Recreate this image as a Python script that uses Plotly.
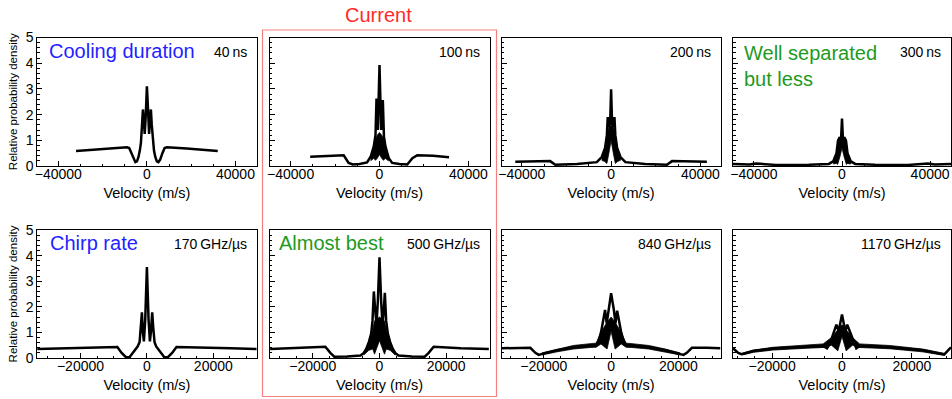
import plotly.graph_objects as go

FONT = "Liberation Sans, Arial, Helvetica, sans-serif"

# ---------------- data ----------------
TOP_LABELS = ["40\u2009ns", "100\u2009ns", "200\u2009ns", "300\u2009ns"]
BOT_LABELS = ["170\u2009GHz/\u00b5s", "500\u2009GHz/\u00b5s", "840\u2009GHz/\u00b5s", "1170\u2009GHz/\u00b5s"]
TOP_RANGES = [49500, 49500, 49000, 49500]
BOT_RANGES = [33000, 33000, 32500, 31200]
X_TITLE = "Velocity (m/s)"
Y_TITLE = "Relative probability density"

# 40 ns
P1_X = [-32000, -25000, -18000, -12000, -9000, -8000, -7000, -6000, -5200, -4500, -3800, -3200,
        -2700, -2200, -1800, -1400, -1000, -600, -300, 0, 300, 600, 1000, 1400, 1800, 2200, 2700,
        3200, 3800, 4500, 5200, 6000, 7000, 8000, 9000, 12000, 18000, 25000, 32000]
P1_Y = [0.58, 0.63, 0.68, 0.72, 0.73, 0.70, 0.50, 0.25, 0.15, 0.18, 0.35, 0.60,
        0.90, 1.60, 2.20, 1.80, 1.25, 1.80, 2.60, 3.10, 2.60, 1.80, 1.25, 1.80, 2.20, 1.60, 0.90,
        0.60, 0.35, 0.18, 0.15, 0.25, 0.50, 0.70, 0.73, 0.72, 0.68, 0.63, 0.58]

# 100 ns
P2_X = [-31200, -22600, -16100, -13900, -12000, -9000, -5600, -4000, -2600, -1800, -1350, -750,
        0, 750, 1500, 2000, 2700, 4200, 5700, 9000, 12500, 14800, 17000, 24100, 31300]
P2_Y = [0.36, 0.40, 0.42, 0.12, 0.06, 0.08, 0.14, 0.36, 0.75, 1.20, 2.63, 1.40,
        3.93, 1.40, 2.57, 1.14, 0.75, 0.30, 0.12, 0.08, 0.06, 0.30, 0.42, 0.40, 0.34]
P2_BX = [-4000, -2600, -1800, -1000, 0, 1000, 1800, 2600, 4000]
P2_BLO = [0.20, 0.30, 0.22, 0.30, 0.45, 0.30, 0.22, 0.30, 0.20]
P2_BHI = [0.34, 0.70, 1.05, 1.20, 1.30, 1.20, 1.05, 0.70, 0.34]

# 200 ns
P3_X = [-42900, -27300, -25000, -15300, -6400, -4200, -2700, -1900, -1500, -1000, -750, -450,
        0, 450, 750, 1000, 1500, 1900, 2700, 4200, 6400, 15300, 25000, 27300, 42900]
P3_Y = [0.17, 0.19, 0.05, 0.08, 0.15, 0.35, 0.70, 1.20, 1.90, 1.50, 1.90, 1.60,
        2.98, 1.60, 1.90, 1.50, 1.90, 1.20, 0.70, 0.35, 0.15, 0.08, 0.05, 0.19, 0.17]
P3_BX = [-4200, -3000, -1900, -1000, 0, 1000, 1900, 3000, 4200]
P3_BLO = [0.22, 0.18, 0.10, 0.50, 1.00, 0.50, 0.10, 0.18, 0.22]
P3_BHI = [0.35, 0.60, 1.20, 1.50, 1.60, 1.50, 1.20, 0.60, 0.35]

# 300 ns
P4_X = [-49500, -42000, -39000, -30000, -15000, -6000, -4000, -2500, -1800, -1000, -500,
        0, 500, 1000, 1800, 2500, 4000, 6000, 15000, 30000, 39000, 42000, 49500]
P4_Y = [0.08, 0.06, 0.10, 0.04, 0.05, 0.08, 0.18, 0.50, 1.00, 1.12, 0.90,
        1.85, 0.90, 1.12, 1.00, 0.50, 0.18, 0.08, 0.05, 0.04, 0.10, 0.06, 0.08]
P4_BX = [-4000, -2500, -2000, -1000, 0, 1000, 2000, 2500, 4000]
P4_BLO = [0.08, 0.10, 0.06, 0.35, 0.70, 0.35, 0.06, 0.10, 0.08]
P4_BHI = [0.18, 0.50, 0.85, 1.05, 1.10, 1.05, 0.85, 0.50, 0.18]

# 170 GHz/us
P5_X = [-33100, -25250, -15150, -8900, -7600, -6300, -5250, -4000, -2800, -2200, -1800, -1500,
        -1200, -900, -500, 0, 500, 900, 1200, 1600, 1900, 2300, 2800, 4000, 5250, 6300, 7600,
        8900, 15150, 25250, 33300]
P5_Y = [0.35, 0.38, 0.42, 0.43, 0.20, 0.03, 0.03, 0.25, 0.45, 0.62, 1.20, 1.78,
        1.00, 0.65, 1.50, 3.55, 1.50, 0.65, 1.00, 1.78, 1.20, 0.62, 0.45, 0.25, 0.03, 0.03, 0.20,
        0.43, 0.42, 0.38, 0.35]

# 500 GHz/us
P6_X = [-32800, -24800, -16250, -14750, -13550, -9700, -5700, -4700, -3900, -3200, -2500, -2100,
        -1700, -1300, -900, -500, 0, 500, 900, 1300, 1600, 2000, 2500, 3200, 3900, 4700, 5700,
        9700, 13550, 14750, 16250, 24400, 32800]
P6_Y = [0.35, 0.38, 0.44, 0.20, 0.05, 0.06, 0.10, 0.20, 0.38, 0.62, 0.95, 1.45,
        2.60, 1.90, 1.30, 2.20, 3.93, 2.20, 1.30, 1.90, 2.55, 1.45, 0.95, 0.62, 0.38, 0.20, 0.10,
        0.06, 0.05, 0.20, 0.44, 0.38, 0.35]
P6_BX = [-4700, -3200, -2000, -1500, 0, 1500, 2000, 3200, 4700]
P6_BLO = [0.12, 0.30, 0.35, 0.15, 0.68, 0.15, 0.35, 0.30, 0.12]
P6_BHI = [0.22, 0.60, 1.10, 1.45, 1.60, 1.45, 1.10, 0.60, 0.22]

# 840 GHz/us
P7_X = [-32500, -28000, -24000, -22500, -21500, -20000, -16100, -11200, -6200, -4450, -3750, -3000,
        -2300, -1800, -1300, -800, 0, 800, 1300, 1800, 2300, 3000, 3750, 4450, 6200, 11200,
        16100, 20000, 21500, 22500, 24000, 28400, 32500]
P7_Y = [0.38, 0.40, 0.40, 0.20, 0.12, 0.18, 0.30, 0.42, 0.48, 0.50, 0.65, 1.00,
        1.50, 1.88, 1.35, 1.90, 2.53, 1.90, 1.35, 1.85, 1.50, 1.00, 0.65, 0.50, 0.48, 0.42,
        0.30, 0.18, 0.12, 0.20, 0.40, 0.40, 0.38]
P7_BX = [-20500, -16100, -11200, -6200, -4450, -3000, -1200, 0, 1200, 3000, 4450, 6200, 11200, 16100, 20500]
P7_BLO = [0.12, 0.24, 0.35, 0.41, 0.42, 0.55, 0.35, 1.05, 0.35, 0.55, 0.42, 0.41, 0.35, 0.24, 0.12]
P7_BHI = [0.20, 0.35, 0.49, 0.56, 0.58, 1.00, 1.40, 1.60, 1.40, 1.00, 0.58, 0.56, 0.49, 0.35, 0.20]

# 1170 GHz/us
P8_X = [-31200, -29700, -28750, -25400, -19700, -10200, -5400, -4300, -3500, -2600, -1600, -950,
        -500, 0, 500, 950, 1500, 2600, 3500, 4100, 5050, 13600, 23100, 27900, 29300, 30700, 31200]
P8_Y = [0.38, 0.20, 0.15, 0.27, 0.37, 0.44, 0.47, 0.38, 0.55, 0.90, 1.30, 1.05,
        1.35, 1.70, 1.35, 1.05, 1.30, 0.90, 0.55, 0.38, 0.47, 0.42, 0.30, 0.18, 0.14, 0.35, 0.42]
P8_BX = [-28500, -25400, -19700, -10200, -5400, -3000, -1200, 0, 1200, 3000, 5050, 13600, 23100, 27900, 29300]
P8_BLO = [0.12, 0.22, 0.31, 0.38, 0.41, 0.50, 0.28, 0.85, 0.28, 0.50, 0.41, 0.36, 0.24, 0.13, 0.10]
P8_BHI = [0.19, 0.31, 0.42, 0.51, 0.55, 0.80, 1.10, 1.30, 1.10, 0.80, 0.55, 0.49, 0.35, 0.22, 0.18]

LINES = [(P1_X, P1_Y), (P2_X, P2_Y), (P3_X, P3_Y), (P4_X, P4_Y),
         (P5_X, P5_Y), (P6_X, P6_Y), (P7_X, P7_Y), (P8_X, P8_Y)]
BANDS = {1: (P2_BX, P2_BLO, P2_BHI), 2: (P3_BX, P3_BLO, P3_BHI), 3: (P4_BX, P4_BLO, P4_BHI),
         5: (P6_BX, P6_BLO, P6_BHI), 6: (P7_BX, P7_BLO, P7_BHI), 7: (P8_BX, P8_BLO, P8_BHI)}

# ---------------- layout geometry (pixels) ----------------
W, H = 952, 399
COL_PX = [(37.3, 256.5), (269.5, 489.5), (501.7, 720.5), (733.0, 951.0)]
ROW_PX = [(37.5, 166.0), (230.0, 358.0)]


def px_x(p):
    return p / W


def px_y(p):
    return 1 - p / H


fig = go.Figure()

for i in range(8):
    r, c = divmod(i, 4)
    n = i + 1
    xa = "x" if n == 1 else f"x{n}"
    ya = "y" if n == 1 else f"y{n}"
    if i in BANDS:
        bx, blo, bhi = BANDS[i]
        fig.add_trace(go.Scatter(
            x=list(bx) + list(bx)[::-1], y=list(bhi) + list(blo)[::-1],
            fill="toself", fillcolor="black", mode="lines",
            line=dict(color="black", width=0.8), xaxis=xa, yaxis=ya,
            showlegend=False, hoverinfo="skip"))
    lx, ly = LINES[i]
    fig.add_trace(go.Scatter(x=lx, y=ly, mode="lines",
                             line=dict(color="black", width=2.5),
                             xaxis=xa, yaxis=ya, showlegend=False))

    rng = TOP_RANGES[c] if r == 0 else BOT_RANGES[c]
    major = 40000 if r == 0 else 20000
    minor = 10000 if r == 0 else 5000
    x0, x1 = COL_PX[c]
    yt, yb = ROW_PX[r]
    xkey = "xaxis" if n == 1 else f"xaxis{n}"
    ykey = "yaxis" if n == 1 else f"yaxis{n}"
    fig.layout[xkey] = dict(
        domain=[px_x(x0), px_x(x1)], range=[-rng, rng], anchor=ya, automargin=False,
        showline=True, linecolor="black", linewidth=1, mirror=True,
        ticks="inside", ticklen=5, tickwidth=1, tickcolor="black",
        tick0=0, dtick=major, tickformat="d", ticklabelstandoff=-5,
        minor=dict(ticks="inside", dtick=minor, ticklen=2.5, tickcolor="black"),
        showgrid=False, zeroline=False,
        tickfont=dict(family=FONT, size=14, color="black"),
        title=dict(text=X_TITLE, font=dict(family=FONT, size=14.5, color="black"), standoff=7),
    )
    ydict = dict(
        domain=[px_y(yb), px_y(yt)], range=[0, 5], anchor=xa, automargin=False,
        showline=True, linecolor="black", linewidth=1, mirror=True,
        ticks="inside", ticklen=5, tickwidth=1, tickcolor="black",
        tick0=0, dtick=1,
        minor=dict(ticks="inside", dtick=0.2, ticklen=2.5, tickcolor="black"),
        showgrid=False, zeroline=False,
        showticklabels=(c == 0),
        tickfont=dict(family=FONT, size=14, color="black"),
    )
    if c == 0:
        ydict["title"] = dict(text=Y_TITLE, font=dict(family=FONT, size=11.5, color="black"), standoff=5)
    fig.layout[ykey] = ydict

annotations = []
for c in range(4):
    x0, x1 = COL_PX[c]
    annotations.append(dict(text=TOP_LABELS[c], x=px_x(x1 - 8), y=px_y(52), xanchor="right",
                            yanchor="middle", font=dict(family=FONT, size=14, color="black")))
    annotations.append(dict(text=BOT_LABELS[c], x=px_x(x1 - 8), y=px_y(244), xanchor="right",
                            yanchor="middle", font=dict(family=FONT, size=14, color="black")))

BLUE = "#1f1fff"
GREEN = "#1e9a1e"
annotations += [
    dict(text="Cooling duration", x=px_x(47), y=px_y(51), xanchor="left", yanchor="middle",
         font=dict(family=FONT, size=20, color=BLUE)),
    dict(text="Chirp rate", x=px_x(48), y=px_y(243), xanchor="left", yanchor="middle",
         font=dict(family=FONT, size=20, color=BLUE)),
    dict(text="Almost best", x=px_x(277), y=px_y(243), xanchor="left", yanchor="middle",
         font=dict(family=FONT, size=20, color=GREEN)),
    dict(text="Well separated<br>but less", x=px_x(742), y=px_y(40), xanchor="left", yanchor="top",
         align="left", font=dict(family=FONT, size=20, color=GREEN)),
    dict(text="Current", x=px_x(378), y=px_y(15), xanchor="center", yanchor="middle",
         font=dict(family=FONT, size=20, color="#ff2a2a")),
]
for a in annotations:
    a["xref"] = "paper"
    a["yref"] = "paper"
    a["showarrow"] = False

fig.update_layout(
    template="none",
    width=W, height=H, margin=dict(l=0, r=0, t=0, b=0, autoexpand=False),
    paper_bgcolor="white", plot_bgcolor="white",
    annotations=annotations,
    shapes=[dict(type="rect", xref="paper", yref="paper",
                 x0=px_x(262.5), x1=px_x(496.5), y0=px_y(396.5), y1=px_y(30),
                 line=dict(color="#f58080", width=1.2), fillcolor="rgba(0,0,0,0)")],
)

fig.write_html("out.html")
